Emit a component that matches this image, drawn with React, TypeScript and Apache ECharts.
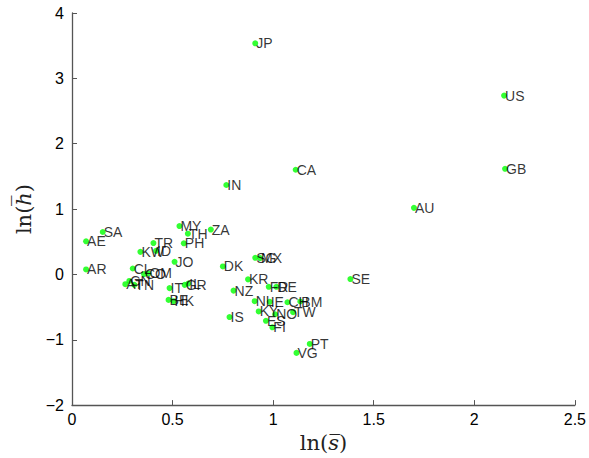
import React, { useEffect, useRef } from "react";
import * as echarts from "echarts";

const countries = [
  "JP", "US", "CA", "GB", "IN", "AU", "SA", "AE", "AR", "MY", "TH", "ZA", "TR", "PH", "KW", "ID",
  "JO", "DK", "CL", "CO", "OM", "CN", "AT", "TN", "IT", "GR", "IL", "BE", "HK", "SG", "MX", "KR",
  "NZ", "FR", "DE", "SE", "NL", "IE", "CH", "BM", "TW", "KY", "NO", "ES", "FI", "IS", "PT", "VG",
];
const lnS = [
  0.911, 2.148, 1.112, 2.153, 0.767, 1.700, 0.153, 0.070, 0.070, 0.534, 0.576, 0.690, 0.405, 0.556, 0.340, 0.418,
  0.510, 0.750, 0.302, 0.358, 0.380, 0.285, 0.265, 0.310, 0.485, 0.560, 0.578, 0.480, 0.505, 0.911, 0.935, 0.875,
  0.803, 0.978, 1.016, 1.384, 0.908, 0.983, 1.071, 1.135, 1.099, 0.928, 1.010, 0.964, 0.996, 0.783, 1.182, 1.116,
];
const lnH = [
  3.536, 2.736, 1.601, 1.616, 1.368, 1.018, 0.649, 0.506, 0.076, 0.740, 0.623, 0.686, 0.480, 0.476, 0.345, 0.360,
  0.193, 0.122, 0.090, 0.005, 0.015, -0.100, -0.150, -0.160, -0.210, -0.160, -0.140, -0.390, -0.410, 0.254, 0.250, -0.076,
  -0.248, -0.190, -0.190, -0.071, -0.410, -0.420, -0.426, -0.415, -0.578, -0.567, -0.610, -0.710, -0.810, -0.653, -1.064, -1.201,
];
const xTicks = { min: 0, max: 2.5, interval: 0.5 };
const yTicks = { min: -2, max: 4, interval: 1 };

export default function App() {
  const ref = useRef<HTMLDivElement>(null);
  useEffect(() => {
    if (!ref.current) return;
    const chart = echarts.init(ref.current, null, { renderer: "svg" });
    const data = countries.map((c, i) => [lnS[i], lnH[i], c]);
    const axisColor = "#555";
    const tickFmt = (v: number) => String(v).replace("-", "\u2212");
    chart.setOption({
      animation: false,
      backgroundColor: "#fff",
      grid: { left: 72, right: 14, top: 13, bottom: 49, containLabel: false },
      xAxis: {
        type: "value",
        min: xTicks.min,
        max: xTicks.max,
        interval: xTicks.interval,
        splitLine: { show: false },
        axisLine: { show: true, onZero: false, lineStyle: { color: axisColor, width: 1.3 } },
        axisTick: { show: true, inside: true, length: 5, lineStyle: { color: axisColor } },
        axisLabel: {
          color: "#000",
          fontSize: 16,
          fontFamily: "Liberation Sans, Arial, sans-serif",
          margin: 6,
          formatter: tickFmt,
        },
        name: "{a|ln(}{b|s\u0305}{a|)}",
        nameLocation: "middle",
        nameGap: 25,
        nameTextStyle: {
          rich: {
            a: { fontFamily: "DejaVu Serif, serif", fontSize: 21, color: "#222" },
            b: { fontFamily: "DejaVu Serif, serif", fontStyle: "italic", fontSize: 21, color: "#222" },
          },
        },
      },
      yAxis: {
        type: "value",
        min: yTicks.min,
        max: yTicks.max,
        interval: yTicks.interval,
        splitLine: { show: false },
        axisLine: { show: true, onZero: false, lineStyle: { color: axisColor, width: 1.3 } },
        axisTick: { show: true, inside: true, length: 5, lineStyle: { color: axisColor } },
        axisLabel: {
          color: "#000",
          fontSize: 16,
          fontFamily: "Liberation Sans, Arial, sans-serif",
          margin: 8,
          formatter: tickFmt,
        },
        name: "{a|ln(}{b|h\u0305}{a|)}",
        nameLocation: "middle",
        nameGap: 32,
        nameRotate: 90,
        nameTextStyle: {
          rich: {
            a: { fontFamily: "DejaVu Serif, serif", fontSize: 21, color: "#222" },
            b: { fontFamily: "DejaVu Serif, serif", fontStyle: "italic", fontSize: 21, color: "#222" },
          },
        },
      },
      series: [
        {
          type: "scatter",
          data,
          symbol: "circle",
          symbolSize: 6,
          itemStyle: { color: "#00ff00" },
          label: {
            show: true,
            position: "right",
            distance: -2,
            color: "#000",
            fontSize: 14,
            fontFamily: "Liberation Sans, Arial, sans-serif",
            formatter: (p: any) => p.data[2],
          },
          labelLayout: { hideOverlap: false },
        },
      ],
    });
    return () => chart.dispose();
  }, []);
  return (
    <div
      ref={ref}
      style={{ position: "absolute", left: 0, top: 0, width: 589, height: 458 }}
    />
  );
}
